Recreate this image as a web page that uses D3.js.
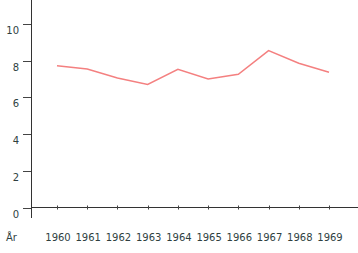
<!DOCTYPE html>
<html>
<head>
<meta charset="utf-8">
<script src="https://cdn.jsdelivr.net/npm/d3@7"></script>
<style>
  body { margin: 0; background: #fff; }
  svg { display: block; }
</style>
</head>
<body>
<svg id="chart" width="358" height="253"></svg>
<script>
const years = ["1960", "1961", "1962", "1963", "1964", "1965", "1966", "1967", "1968", "1969"];
const values = [7.73, 7.55, 7.06, 6.71, 7.53, 7.0, 7.26, 8.55, 7.86, 7.37];
const yTicks = [0, 2, 4, 6, 8, 10];
const xTitle = "År";

const width = 358;
const height = 253;
const axisX = 31;
const axisY = 207.5;
const textColor = "#2f3f3f";
const fontFamily = "DejaVu Sans, Verdana, sans-serif";

const svg = d3.select("#chart");

const y = d3.scaleLinear().domain([0, 10]).range([axisY, 24]);
const x = d3.scalePoint().domain(years).range([57, 329]);

// y axis line
svg.append("line")
  .attr("x1", axisX + 0.5).attr("x2", axisX + 0.5)
  .attr("y1", 0).attr("y2", 218)
  .attr("stroke", "#333").attr("stroke-width", 1);

// x axis line
svg.append("line")
  .attr("x1", axisX).attr("x2", width)
  .attr("y1", axisY).attr("y2", axisY)
  .attr("stroke", "#333").attr("stroke-width", 1);

// y ticks + labels
const yg = svg.append("g");
yg.selectAll("line")
  .data(yTicks)
  .join("line")
  .attr("x1", 23).attr("x2", axisX)
  .attr("y1", d => Math.round(y(d)) + 0.5)
  .attr("y2", d => Math.round(y(d)) + 0.5)
  .attr("stroke", "#444");
yg.selectAll("text")
  .data(yTicks)
  .join("text")
  .attr("x", 19)
  .attr("y", d => y(d) + 10)
  .attr("text-anchor", "end")
  .attr("font-size", "10px")
  .attr("font-family", fontFamily)
  .attr("fill", textColor)
  .text(d => d);

// x ticks + labels
const xg = svg.append("g");
xg.selectAll("line")
  .data(years)
  .join("line")
  .attr("x1", d => Math.round(x(d)) + 0.5)
  .attr("x2", d => Math.round(x(d)) + 0.5)
  .attr("y1", axisY - 2).attr("y2", axisY + 2)
  .attr("stroke", "#444");
xg.selectAll("text")
  .data(years)
  .join("text")
  .attr("x", d => x(d) + 1)
  .attr("y", 241)
  .attr("text-anchor", "middle")
  .attr("font-size", "10px")
  .attr("font-family", fontFamily)
  .attr("fill", textColor)
  .text(d => d);

svg.append("text")
  .attr("x", 6)
  .attr("y", 241)
  .attr("font-size", "10px")
  .attr("font-family", fontFamily)
  .attr("fill", textColor)
  .text(xTitle);

// data line
const line = d3.line()
  .x((d, i) => x(years[i]))
  .y(d => y(d));

svg.append("path")
  .datum(values)
  .attr("fill", "none")
  .attr("stroke", "#f48080")
  .attr("stroke-width", 1.5)
  .attr("d", line);
</script>
</body>
</html>
